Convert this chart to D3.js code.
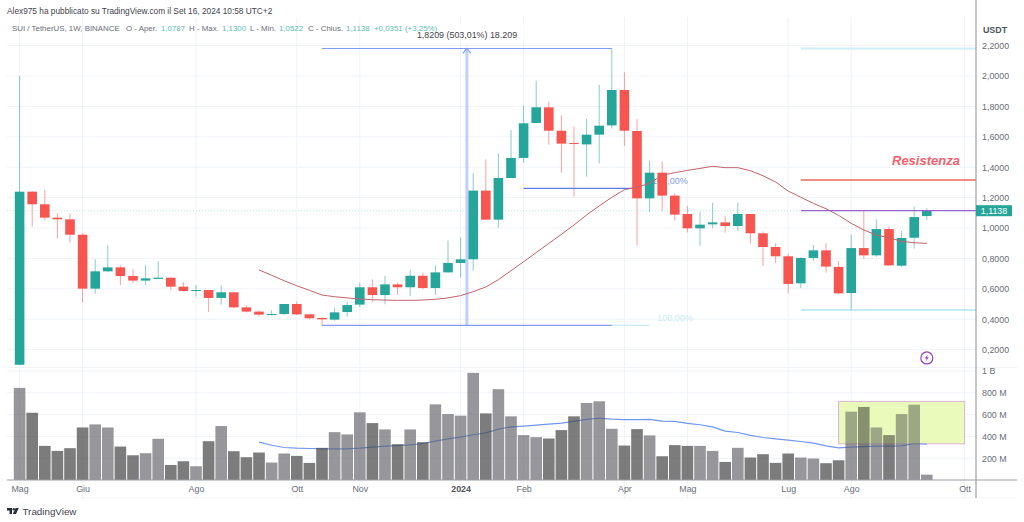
<!DOCTYPE html>
<html>
<head>
<meta charset="utf-8">
<script src="https://cdn.jsdelivr.net/npm/d3@7"></script>
<style>
  html, body { margin: 0; background: #fff; overflow: hidden; }
  svg { display: block; font-family: "Liberation Sans", sans-serif; }
  .domain { display: none; }
</style>
</head>
<body>
<svg id="chart" width="1024" height="522"></svg>
<script>
// weekly candles
const opens = [0.1,1.239,1.156,1.068,1.057,0.956,0.601,0.715,0.741,0.684,0.654,0.665,0.673,0.614,0.588,0.592,0.54,0.577,0.478,0.45,0.43,0.434,0.5,0.432,0.408,0.397,0.447,0.496,0.61,0.559,0.629,0.61,0.686,0.605,0.708,0.77,0.794,1.246,1.055,1.329,1.461,1.691,1.794,1.64,1.559,1.55,1.614,1.675,1.908,1.638,1.195,1.364,1.213,1.092,0.998,1.024,1.037,1.013,1.092,0.965,0.875,0.814,0.636,0.803,0.853,0.744,0.572,0.868,0.82,0.993,0.752,0.936,1.0787];
const closes = [1.239,1.156,1.068,1.057,0.956,0.601,0.715,0.741,0.684,0.654,0.669,0.673,0.614,0.586,0.592,0.54,0.577,0.478,0.45,0.43,0.434,0.5,0.432,0.406,0.399,0.445,0.493,0.61,0.559,0.629,0.61,0.686,0.605,0.708,0.77,0.794,1.246,1.055,1.329,1.461,1.689,1.794,1.64,1.555,1.555,1.614,1.673,1.908,1.64,1.195,1.364,1.213,1.088,0.998,1.022,1.037,1.013,1.092,0.965,0.875,0.814,0.632,0.803,0.853,0.746,0.57,0.868,0.82,0.993,0.754,0.934,1.072,1.1138];
const highs = [2.0,1.24,1.25,1.096,1.096,0.965,0.794,0.886,0.754,0.73,0.757,0.781,0.673,0.643,0.625,0.592,0.623,0.577,0.491,0.458,0.458,0.5,0.516,0.432,0.414,0.476,0.515,0.636,0.662,0.684,0.64,0.724,0.706,0.757,0.917,0.939,1.36,1.452,1.491,1.645,1.807,1.969,1.831,1.741,1.667,1.717,1.943,2.182,2.024,1.717,1.443,1.438,1.228,1.145,1.107,1.167,1.079,1.167,1.092,0.976,0.899,0.829,0.807,0.888,0.899,0.781,0.954,1.114,1.057,1.009,0.98,1.14,1.13];
const lows = [0.1,1.009,1.053,0.932,0.903,0.509,0.566,0.711,0.623,0.636,0.625,0.664,0.592,0.581,0.548,0.447,0.496,0.472,0.443,0.419,0.425,0.428,0.428,0.399,0.36,0.39,0.417,0.478,0.511,0.498,0.559,0.553,0.597,0.559,0.708,0.675,0.719,1.055,1.002,1.329,1.43,1.691,1.548,1.364,1.206,1.338,1.425,1.653,1.539,0.886,1.105,1.112,1.048,0.971,0.882,0.998,0.969,0.982,0.899,0.75,0.768,0.57,0.605,0.781,0.706,0.564,0.461,0.796,0.811,0.752,0.746,0.864,1.0522];
// volume in millions
const volumes = [845,617,313,267,292,482,510,482,307,227,246,378,138,172,126,356,495,264,209,252,160,243,221,157,295,439,418,621,522,464,329,464,347,694,605,590,983,611,833,584,412,393,381,458,584,707,722,470,316,467,409,218,320,313,313,267,166,295,206,237,157,243,206,197,154,181,627,670,482,412,605,691,49];

// moving averages start at week 19
const maStart = 19;
const priceMa = [0.724,0.689,0.653,0.62,0.59,0.559,0.548,0.54,0.533,0.528,0.526,0.524,0.524,0.526,0.531,0.54,0.555,0.581,0.612,0.66,0.719,0.778,0.838,0.899,0.958,1.02,1.086,1.145,1.202,1.252,1.268,1.294,1.347,1.364,1.379,1.392,1.406,1.397,1.397,1.377,1.344,1.303,1.243,1.202,1.162,1.127,1.083,1.031,0.987,0.954,0.936,0.912,0.903,0.899];
const volumeMa = [347,319,298,292,289,286,286,286,292,301,310,316,323,335,356,378,393,415,433,467,488,495,504,513,522,538,556,568,559,553,553,556,541,538,519,507,488,449,436,409,390,378,366,353,338,313,295,301,307,310,310,313,335,329];

const monthIndexes = [0,5,14,22,27,35,40,48,53,61,66,75];
const monthLabels = ["Mag","Giu","Ago","Ott","Nov","2024","Feb","Apr","Mag","Lug","Ago","Ott"];
const priceTicks = [0.2,0.4,0.6,0.8,1.0,1.2,1.4,1.6,1.8,2.0,2.2];
const volumeTicks = [200,400,600,800,1000];

const titleText = "Alex975 ha pubblicato su TradingView.com il Set 16, 2024 10:58 UTC+2";
const legendTexts = ["SUI / TetherUS, 1W, BINANCE","O - Aper.","1,0787","H - Max.","1,1300","L - Min.","1,0522","C - Chius.","1,1138","+0,0351 (+3,25%)"];
const legendLefts = [12,126,161,189,222,250,279,308,346,374];
const lastPrice = 1.1138;

const GREEN = "#26a69a";
const RED = "#f75550";
const GRID = "#eff3f7";
const TEXT = "#6a6d78";

const x = d3.scaleLinear().domain([0, 72]).range([19.6, 926.8]);
const y = d3.scaleLinear().domain([0, 2]).range([380, 76]);
const yVol = d3.scaleLinear().domain([0, 1000]).range([480, 371]);

const svg = d3.select("#chart");
const weeks = d3.range(opens.length);
const isUp = (i) => closes[i] >= opens[i];

function drawGrid() {
  const grid = svg.append("g").attr("stroke", GRID).attr("stroke-width", 1);
  grid.selectAll(".v").data(monthIndexes).join("line")
    .attr("x1", (d) => x(d)).attr("x2", (d) => x(d))
    .attr("y1", 17).attr("y2", 498);
  grid.selectAll(".p").data(priceTicks).join("line")
    .attr("x1", 7).attr("x2", 976)
    .attr("y1", (d) => y(d)).attr("y2", (d) => y(d));
  grid.selectAll(".q").data(volumeTicks).join("line")
    .attr("x1", 7).attr("x2", 976)
    .attr("y1", (d) => yVol(d)).attr("y2", (d) => yVol(d));
  grid.append("line").attr("x1", 7).attr("x2", 1017).attr("y1", 367.5).attr("y2", 367.5);
  grid.append("line").attr("x1", 80).attr("x2", 1017).attr("y1", 498).attr("y2", 498);
}

function hLine(from, to, price, color, width) {
  svg.append("line")
    .attr("x1", x(from)).attr("x2", x(to))
    .attr("y1", y(price)).attr("y2", y(price))
    .attr("stroke", color).attr("stroke-width", width);
}

function drawAnnotationsBehind() {
  // last price dotted line
  svg.append("line")
    .attr("x1", 7).attr("x2", 976)
    .attr("y1", y(lastPrice)).attr("y2", y(lastPrice))
    .attr("stroke", "#bfe8e2").attr("stroke-width", 1).attr("stroke-dasharray", "1,2");

  // price range measure tool
  svg.append("line")
    .attr("x1", x(35.5)).attr("x2", x(35.5))
    .attr("y1", y(2.181)).attr("y2", y(0.36))
    .attr("stroke", "#c0cfff").attr("stroke-width", 3);
  hLine(24, 47, 2.181, "#7f9cf5", 1.2);
  hLine(47, 50, 0.36, "#b2e8ef", 1);
  hLine(24, 47, 0.36, "#7f9cf5", 1.2);
  svg.append("path")
    .attr("d", d3.line()([[x(35.5) - 4, y(2.181) + 5], [x(35.5), y(2.181)], [x(35.5) + 4, y(2.181) + 5]]))
    .attr("fill", "none").attr("stroke", "#7f9cf5").attr("stroke-width", 1.2);
  hLine(40, 49.2, 1.261, "#5b7cf0", 1.2);

  svg.append("text").attr("x", x(50.2)).attr("y", y(1.261) - 4)
    .attr("font-size", 9).attr("fill", "#7f9cf5").text("100,00%");
  svg.append("text").attr("x", x(50.6)).attr("y", y(0.36) - 4)
    .attr("font-size", 9).attr("fill", "#c5ecf1").text("100,00%");

  // levels on the right
  hLine(62, 75.9, 2.181, "#cdeff4", 2);
  hLine(62, 75.9, 0.46, "#aee6ec", 1.5);
  hLine(62, 75.9, 1.316, "#f28b8b", 2);
  svg.append("text").attr("x", 892).attr("y", 164.5)
    .attr("font-size", 13).attr("font-weight", 700).attr("font-style", "italic")
    .attr("fill", "#f5616e").text("Resistenza");
}

function drawCandles() {
  const color = (i) => (isUp(i) ? GREEN : RED);
  svg.append("g").selectAll("line").data(weeks).join("line")
    .attr("x1", (i) => x(i)).attr("x2", (i) => x(i))
    .attr("y1", (i) => y(highs[i])).attr("y2", (i) => y(lows[i]))
    .attr("stroke", color).attr("stroke-opacity", 0.55);
  svg.append("g").selectAll("rect").data(weeks).join("rect")
    .attr("x", (i) => x(i) - 4.8).attr("width", 9.6)
    .attr("y", (i) => y(Math.max(opens[i], closes[i])))
    .attr("height", (i) => Math.max(1, Math.abs(y(opens[i]) - y(closes[i]))))
    .attr("fill", color);
}

function drawMovingAverages() {
  const priceLine = d3.line().x((d, i) => x(i + maStart)).y((d) => y(d));
  svg.append("path").attr("d", priceLine(priceMa))
    .attr("fill", "none").attr("stroke", "#c2636c").attr("stroke-width", 1);
  hLine(62, 75.9, 1.114, "#9b62c9", 1.3);
}

function zoneRect() {
  return svg.append("rect")
    .attr("x", x(65)).attr("width", x(75) - x(65))
    .attr("y", yVol(721)).attr("height", yVol(332) - yVol(721));
}

function drawVolume() {
  // highlighted zone on volume, tints the bars too
  zoneRect().attr("fill", "#eefcc8").attr("stroke", "#dcaedd").attr("stroke-width", 1);

  const volumeLine = d3.line().x((d, i) => x(i + maStart)).y((d) => yVol(d));
  svg.append("path").attr("d", volumeLine(volumeMa))
    .attr("fill", "none").attr("stroke", "#6f97ef").attr("stroke-width", 1.2);
  svg.append("g").selectAll("rect").data(weeks).join("rect")
    .attr("x", (i) => x(i) - 5.8).attr("width", 11.6)
    .attr("y", (i) => yVol(volumes[i]))
    .attr("height", (i) => yVol(0) - yVol(volumes[i]))
    .attr("fill", (i) => (isUp(i) ? "#606065" : "#4a4a4a"))
    .attr("fill-opacity", (i) => (isUp(i) ? 0.65 : 0.72));

  zoneRect().attr("fill", "#d9f27a").attr("fill-opacity", 0.18);
}

function drawAxes() {
  svg.append("line").attr("x1", 976).attr("x2", 976).attr("y1", 0).attr("y2", 498)
    .attr("stroke", "#8a8d94");
  svg.append("line").attr("x1", 7).attr("x2", 1017).attr("y1", 480).attr("y2", 480)
    .attr("stroke", "#9a9da4");

  const commaDecimal = (d) => d3.format(".4f")(d).replace(".", ",");
  const priceAxis = svg.append("g").attr("transform", "translate(976,0)")
    .call(d3.axisRight(y).tickValues(priceTicks).tickSize(0).tickPadding(6).tickFormat(commaDecimal));
  const volumeAxis = svg.append("g").attr("transform", "translate(976,0)")
    .call(d3.axisRight(yVol).tickValues(volumeTicks).tickSize(0).tickPadding(6)
      .tickFormat((d) => (d >= 1000 ? "1 B" : `${d} M`)));
  const timeAxis = svg.append("g").attr("transform", "translate(0,480)")
    .call(d3.axisBottom(x).tickValues(monthIndexes).tickSize(0).tickPadding(6)
      .tickFormat((d, i) => monthLabels[i]));

  [priceAxis, volumeAxis, timeAxis].forEach((axis) => {
    axis.selectAll("text")
      .attr("font-family", "'Liberation Sans', sans-serif")
      .attr("font-size", 8.9)
      .attr("fill", TEXT);
  });
  timeAxis.selectAll("text")
    .filter((d, i) => monthLabels[i] === "2024")
    .attr("font-weight", 700).attr("fill", "#50535e");

  svg.append("text").attr("x", 995).attr("y", 32.5).attr("text-anchor", "middle")
    .attr("font-size", 8.9).attr("font-weight", 700).attr("fill", "#50535e").text("USDT");

  // last price tag
  svg.append("rect").attr("x", 976).attr("width", 36)
    .attr("y", y(lastPrice) - 5.5).attr("height", 11).attr("fill", GREEN);
  svg.append("text").attr("x", 994).attr("y", y(lastPrice) + 3.2).attr("text-anchor", "middle")
    .attr("font-size", 8.9).attr("fill", "#fff").text("1,1138");
}

function drawHeader() {
  svg.append("text").attr("x", 7).attr("y", 13.5)
    .attr("font-size", 8.3).attr("fill", "#3f424d").text(titleText);

  // measure tool label sits behind the legend
  svg.append("rect").attr("x", 410).attr("y", 24).attr("width", 114).attr("height", 17).attr("rx", 2)
    .attr("fill", "#fff").attr("fill-opacity", 0.75);

  const isValue = (i) => i >= 2 && i % 2 === 0 || i === 9;
  svg.append("g").selectAll("text").data(legendTexts).join("text")
    .attr("x", (d, i) => legendLefts[i]).attr("y", 31)
    .attr("font-size", 7.9)
    .attr("fill", (d, i) => (isValue(i) ? "#5dbdb2" : TEXT))
    .text((d) => d);

  svg.append("text").attr("x", 467).attr("y", 37.5).attr("text-anchor", "middle")
    .attr("font-size", 8.9).attr("fill", "#3f424d").text("1,8209 (503,01%) 18.209");
}

function drawBadges() {
  // lightning badge
  const badge = svg.append("g").attr("transform", `translate(${x(72)},${y(0.145)})`);
  badge.append("circle").attr("r", 6).attr("fill", "#fff").attr("stroke", "#9c3fc4").attr("stroke-width", 1.2);
  badge.append("path").attr("d", "M1,-3.5 L-2,0.6 L-0.2,0.6 L-1,3.5 L2,-0.6 L0.2,-0.6 Z").attr("fill", "#9c3fc4");

  // TradingView mark
  const logo = svg.append("g").attr("transform", "translate(7,508)").attr("fill", "#2a2e39");
  logo.append("path").attr("d", "M0,0 H5 V6 H2.5 V2.4 H0 Z");
  logo.append("circle").attr("cx", 6.7).attr("cy", 1.2).attr("r", 1.2);
  logo.append("path").attr("d", "M8.6,0 H11.8 L9,6 H5.8 Z");
  svg.append("text").attr("x", 22.5).attr("y", 514.5)
    .attr("font-size", 9.8).attr("fill", "#3f424d").text("TradingView");
}

drawGrid();
drawAnnotationsBehind();
drawVolume();
drawCandles();
drawMovingAverages();
drawAxes();
drawHeader();
drawBadges();
</script>
</body>
</html>
